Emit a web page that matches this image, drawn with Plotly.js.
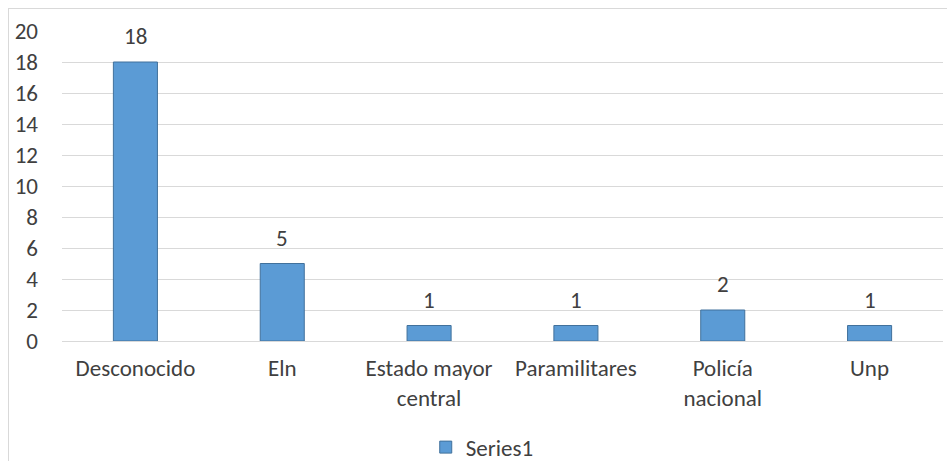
<!DOCTYPE html>
<html>
<head>
<meta charset="utf-8">
<script src="https://cdn.plot.ly/plotly-3.0.1.min.js"></script>
<style>
html,body{margin:0;padding:0;background:#fff;overflow:hidden;}
#wrap{position:relative;width:947px;height:461px;}
#chart{position:absolute;left:0;top:0;width:947px;height:461px;}
#frame{position:absolute;left:8px;top:8px;width:960px;height:470px;border:1px solid #d9d9d9;pointer-events:none;}
</style>
</head>
<body>
<div id="wrap"><div id="chart"></div><div id="frame"></div></div>
<script>
const categories = ["Desconocido", "Eln", "Estado mayor<br>central", "Paramilitares", "Policía<br>nacional", "Unp"];
const values = [18, 5, 1, 1, 2, 1];
const seriesName = "Series1";
const yTicks = [0, 2, 4, 6, 8, 10, 12, 14, 16, 18, 20];

const font = "Calibri, Carlito, 'Liberation Sans', Arial, sans-serif";
const textColor = "#404040";
const fs = 23;

const trace = {
  type: "bar",
  x: categories,
  y: values,
  name: seriesName,
  marker: {color: "#5B9BD5", line: {color: "#41719C", width: 1}},
  showlegend: true,
  hoverinfo: "none"
};

const annotations = categories.map((c, i) => ({
  x: c, y: values[i], xref: "x", yref: "y",
  text: String(values[i]), showarrow: false,
  yshift: 26, font: {family: font, size: fs, color: textColor}
}));

const layout = {
  width: 947, height: 461,
  margin: {l: 62, r: 4, t: 31, b: 120},
  paper_bgcolor: "#fff", plot_bgcolor: "#fff",
  bargap: 0.7,
  font: {family: font, size: fs, color: textColor},
  xaxis: {
    type: "category",
    showgrid: false, showline: false, ticks: "",
    ticklabelstandoff: 11,
    automargin: false,
    tickfont: {family: font, size: fs, color: textColor}
  },
  yaxis: {
    range: [0, 20], tickvals: yTicks, ticktext: yTicks.map(String),
    showgrid: true, gridcolor: "#d9d9d9", gridwidth: 1,
    zeroline: true, zerolinecolor: "#d9d9d9", zerolinewidth: 1,
    showline: false, ticks: "", ticklabelstandoff: 23,
    automargin: false,
    tickfont: {family: font, size: fs, color: textColor}
  },
  legend: {
    orientation: "h", x: 0.477, xanchor: "center",
    yref: "container", y: 0.03, yanchor: "middle",
    font: {family: font, size: fs, color: textColor},
    itemwidth: 30
  },
  annotations: annotations
};

Plotly.newPlot("chart", [trace], layout, {displayModeBar: false, staticPlot: true});
</script>
</body>
</html>
